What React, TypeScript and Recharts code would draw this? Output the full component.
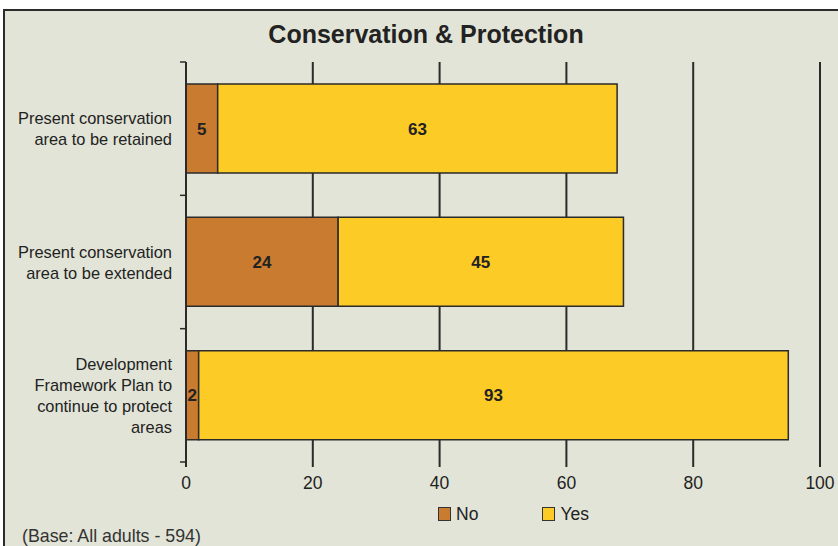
import { BarChart, Bar, XAxis, YAxis, CartesianGrid, LabelList, Legend } from 'recharts';

const categories = [
  'Present conservation\narea to be retained',
  'Present conservation\narea to be extended',
  'Development\nFramework Plan to\ncontinue to protect\nareas',
];
const noValues = [5, 24, 2];
const yesValues = [63, 45, 93];
const xTicks = [0, 20, 40, 60, 80, 100];

const data = categories.map((label, i) => ({ label, no: noValues[i], yes: yesValues[i] }));

const FONT = '"Liberation Sans", Arial, Helvetica, sans-serif';
const BG = '#e1e4d6';
const DARK = '#2b2b2b';
const NO_COLOR = '#c97b30';
const YES_COLOR = '#fdcb25';

const PLOT_TOP = 62;
const PLOT_BOTTOM = 462;
const BAND = (PLOT_BOTTOM - PLOT_TOP) / categories.length;

function CategoryTick(props: any) {
  const { x, y, payload, index } = props;
  const lines = String(payload.value).split('\n');
  const lh = 21;
  const startY = y - ((lines.length - 1) * lh) / 2;
  const axisX = x + 14;
  return (
    <g>
      <line x1={axisX - 6} x2={axisX} y1={y - BAND / 2} y2={y - BAND / 2} stroke={DARK} strokeWidth={1.5} />
      {index === categories.length - 1 && (
        <line x1={axisX - 6} x2={axisX} y1={y + BAND / 2} y2={y + BAND / 2} stroke={DARK} strokeWidth={1.5} />
      )}
      <text x={x} y={startY} textAnchor="end" fontSize={16.4} fill="#222" fontFamily={FONT} dominantBaseline="central">
        {lines.map((l, i) => (
          <tspan key={i} x={x} dy={i === 0 ? 0 : lh}>{l}</tspan>
        ))}
      </text>
    </g>
  );
}

function LegendContent() {
  const items = [
    { name: 'No', color: NO_COLOR },
    { name: 'Yes', color: YES_COLOR },
  ];
  return (
    <div style={{ display: 'flex', gap: 64, fontFamily: FONT, fontSize: 17.5, color: '#222', height: 20, alignItems: 'center' }}>
      {items.map((it) => (
        <div key={it.name} style={{ display: 'flex', alignItems: 'center', gap: 5 }}>
          <span style={{ width: 11, height: 12, background: it.color, border: '1px solid #333', display: 'inline-block' }} />
          <span>{it.name}</span>
        </div>
      ))}
    </div>
  );
}

export default function App() {
  return (
    <div style={{ position: 'absolute', left: 0, top: 0, width: 838, height: 546, overflow: 'hidden', background: '#fff', fontFamily: FONT }}>
      <div style={{ position: 'absolute', left: 3, top: 9, width: 900, height: 600, background: BG, borderTop: `2px solid ${DARK}`, borderLeft: `2px solid ${DARK}` }} />
      <div style={{ position: 'absolute', left: 0, top: 22, width: 852, textAlign: 'center', fontSize: 25, lineHeight: '25px', fontWeight: 'bold', color: '#222' }}>
        Conservation &amp; Protection
      </div>
      <div style={{ position: 'absolute', left: 0, top: 0 }}>
        <BarChart
          width={838}
          height={546}
          data={data}
          layout="vertical"
          margin={{ top: PLOT_TOP, right: 18, left: 0, bottom: 34 }}
        >
          <CartesianGrid horizontal={false} stroke={DARK} strokeWidth={2} />
          <XAxis
            type="number"
            domain={[0, 100]}
            ticks={xTicks}
            axisLine={false}
            tickLine={{ stroke: DARK, strokeWidth: 2 }}
            tickSize={5}
            tickMargin={10}
            height={30}
            tick={{ fill: '#222', fontSize: 17.5, fontFamily: FONT }}
          />
          <YAxis
            type="category"
            dataKey="label"
            width={186}
            axisLine={{ stroke: DARK, strokeWidth: 2 }}
            tickLine={false}
            tickSize={6}
            tickMargin={8}
            tick={<CategoryTick />}
          />
          <Legend content={<LegendContent />} wrapperStyle={{ left: 438, top: 504, width: 'auto' }} />
          <Bar dataKey="no" name="No" stackId="a" fill={NO_COLOR} stroke={DARK} strokeWidth={1.5} barSize={89} isAnimationActive={false}>
            <LabelList dataKey="no" position="center" fill="#222" fontSize={17} fontWeight="bold" fontFamily={FONT} />
          </Bar>
          <Bar dataKey="yes" name="Yes" stackId="a" fill={YES_COLOR} stroke={DARK} strokeWidth={1.5} barSize={89} isAnimationActive={false}>
            <LabelList dataKey="yes" position="center" fill="#222" fontSize={17} fontWeight="bold" fontFamily={FONT} />
          </Bar>
        </BarChart>
      </div>
      <div style={{ position: 'absolute', left: 22, top: 527, fontSize: 17.8, lineHeight: '18px', color: '#333' }}>
        (Base: All adults - 594)
      </div>
    </div>
  );
}
